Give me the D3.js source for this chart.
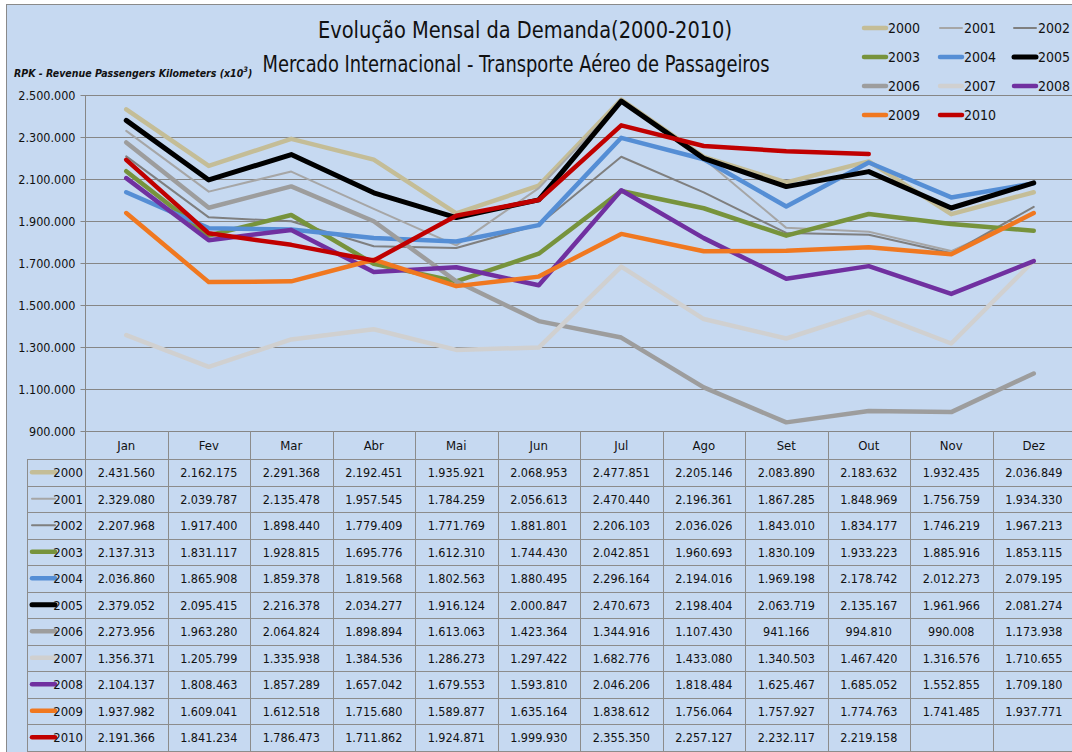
<!DOCTYPE html>
<html><head><meta charset="utf-8">
<script src="https://cdn.jsdelivr.net/npm/d3@7/dist/d3.min.js"></script>
<style>
body{margin:0;background:#fff;}
svg{display:block;}
text{font-family:"DejaVu Sans Condensed","Liberation Sans Narrow","Arial Narrow",sans-serif;}
</style></head>
<body>
<svg id="c" width="1072" height="752"></svg>
<script>
const months = ["Jan","Fev","Mar","Abr","Mai","Jun","Jul","Ago","Set","Out","Nov","Dez"];
const years = ["2000","2001","2002","2003","2004","2005","2006","2007","2008","2009","2010"];
const yTicks = [900000,1100000,1300000,1500000,1700000,1900000,2100000,2300000,2500000];
const s2000 = [2431560,2162175,2291368,2192451,1935921,2068953,2477851,2205146,2083890,2183632,1932435,2036849];
const s2001 = [2329080,2039787,2135478,1957545,1784259,2056613,2470440,2196361,1867285,1848969,1756759,1934330];
const s2002 = [2207968,1917400,1898440,1779409,1771769,1881801,2206103,2036026,1843010,1834177,1746219,1967213];
const s2003 = [2137313,1831117,1928815,1695776,1612310,1744430,2042851,1960693,1830109,1933223,1885916,1853115];
const s2004 = [2036860,1865908,1859378,1819568,1802563,1880495,2296164,2194016,1969198,2178742,2012273,2079195];
const s2005 = [2379052,2095415,2216378,2034277,1916124,2000847,2470673,2198404,2063719,2135167,1961966,2081274];
const s2006 = [2273956,1963280,2064824,1898894,1613063,1423364,1344916,1107430,941166,994810,990008,1173938];
const s2007 = [1356371,1205799,1335938,1384536,1286273,1297422,1682776,1433080,1340503,1467420,1316576,1710655];
const s2008 = [2104137,1808463,1857289,1657042,1679553,1593810,2046206,1818484,1625467,1685052,1552855,1709180];
const s2009 = [1937982,1609041,1612518,1715680,1589877,1635164,1838612,1756064,1757927,1774763,1741485,1937771];
const s2010 = [2191366,1841234,1786473,1711862,1924871,1999930,2355350,2257127,2232117,2219158,null,null];
const seriesValues = [s2000,s2001,s2002,s2003,s2004,s2005,s2006,s2007,s2008,s2009,s2010];
const colors = ["#c4bd97","#a6a6a6","#7f7f7f","#77933c","#558ed5","#000000","#9d9d9d","#d0d0d0","#7030a0","#f07820","#c00000"];
const widths = [4.5,2,2,4.5,4.5,5,4.5,4.5,4.5,4.5,4.5];

const svg = d3.select("#c");
const bg = "#c6d9f1";
svg.append("rect").attr("x",0).attr("y",0).attr("width",1072).attr("height",752).attr("fill","#ffffff");
svg.append("rect").attr("x",6.5).attr("y",4.5).attr("width",1080).attr("height",760).attr("fill",bg).attr("stroke","#8a8a8a").attr("stroke-width",1);

const pLeft = 85, pRight = 1075, pTop = 95, pBottom = 431;
const x = d3.scaleBand().domain(months).range([pLeft,pRight]);
const y = d3.scaleLinear().domain([900000,2500000]).range([pBottom,pTop]);
const fmt = v => d3.format(",")(v).replace(/,/g,".");

// gridlines
const g = svg.append("g");
g.selectAll("line.grid").data(yTicks).enter().append("line")
  .attr("x1",pLeft).attr("x2",1072).attr("y1",d=>Math.round(y(d))+0.5).attr("y2",d=>Math.round(y(d))+0.5)
  .attr("stroke","#868686").attr("stroke-width",1);
// y axis
const yAxis = d3.axisLeft(y).tickValues(yTicks).tickFormat(fmt).tickSize(5).tickPadding(5);
const ya = svg.append("g").attr("transform",`translate(${pLeft+0.5},0)`).call(yAxis);
ya.select(".domain").attr("stroke","#868686").attr("d",`M0,${pTop}V752`);
ya.selectAll(".tick line").attr("stroke","#868686");
ya.selectAll(".tick text").attr("font-size",12.5).attr("fill","#111").style("font-family",'"DejaVu Sans Condensed",sans-serif');

// table
const rowTop = 459, rowH = 26.5, tableLeft = 27;
const tg = svg.append("g");
months.forEach((m)=>{
  tg.append("text").attr("x",x(m)+x.bandwidth()/2).attr("y",450).attr("text-anchor","middle")
    .attr("font-size",13).attr("fill","#111").text(m);
});
months.forEach((m)=>{
  const xx = Math.round(x(m)+x.bandwidth())+0.5;
  tg.append("line").attr("x1",xx).attr("x2",xx).attr("y1",pBottom).attr("y2",752).attr("stroke","#8c8c8c");
});
tg.append("line").attr("x1",tableLeft+0.5).attr("x2",tableLeft+0.5).attr("y1",rowTop).attr("y2",752).attr("stroke","#8c8c8c");
for(let r=0;r<=years.length;r++){
  const yy = Math.round(rowTop + r*rowH)+0.5;
  tg.append("line").attr("x1",tableLeft).attr("x2",1072).attr("y1",yy).attr("y2",yy).attr("stroke","#8c8c8c");
}
years.forEach((yr,r)=>{
  const cy = rowTop + r*rowH + rowH/2;
  tg.append("line").attr("x1",32).attr("x2",55).attr("y1",cy).attr("y2",cy)
    .attr("stroke",colors[r]).attr("stroke-width",widths[r]).attr("stroke-linecap","round");
  tg.append("text").attr("x",83).attr("y",cy+5).attr("text-anchor","end").attr("font-size",13).attr("fill","#111").text(yr);
  seriesValues[r].forEach((v,i)=>{
    if(v==null) return;
    tg.append("text").attr("x",x(months[i])+x.bandwidth()/2).attr("y",cy+5).attr("text-anchor","middle")
      .attr("font-size",12.5).attr("fill","#111").text(fmt(v));
  });
});

// lines
const line = d3.line().defined(d=>d.v!=null).x(d=>x(d.m)+x.bandwidth()/2).y(d=>y(d.v));
seriesValues.forEach((vals,r)=>{
  svg.append("path").datum(vals.map((v,i)=>({m:months[i],v})))
    .attr("d",line).attr("fill","none").attr("stroke",colors[r]).attr("stroke-width",widths[r])
    .attr("stroke-linejoin","round").attr("stroke-linecap","round");
});

// titles
svg.append("text").attr("x",525).attr("y",38).attr("text-anchor","middle").attr("font-size",23).attr("fill","#111")
  .attr("textLength",414).attr("lengthAdjust","spacingAndGlyphs")
  .text("Evolução Mensal da Demanda(2000-2010)");
svg.append("text").attr("x",516).attr("y",72).attr("text-anchor","middle").attr("font-size",23).attr("fill","#111")
  .attr("textLength",507).attr("lengthAdjust","spacingAndGlyphs")
  .text("Mercado Internacional - Transporte Aéreo de Passageiros");
const yt = svg.append("text").attr("x",14).attr("y",77).attr("font-size",10.5).attr("font-style","italic").attr("font-weight","bold").attr("fill","#111");
yt.append("tspan").text("RPK  - Revenue Passengers Kilometers (x10");
yt.append("tspan").attr("font-size",7.5).attr("dy",-5).text("3");
yt.append("tspan").attr("dy",5).text(")");

// legend
const lg = svg.append("g");
const colX = [862,938,1012];
const rowY = [28,57,86,115];
years.forEach((yr,i)=>{
  const cx = colX[i%3], cy = rowY[Math.floor(i/3)];
  lg.append("line").attr("x1",cx+2).attr("x2",cx+24).attr("y1",cy).attr("y2",cy)
    .attr("stroke",colors[i]).attr("stroke-width",widths[i]).attr("stroke-linecap","round");
  lg.append("text").attr("x",cx+26).attr("y",cy+5).attr("font-size",14).attr("fill","#111").text(yr);
});
</script>
</body></html>
